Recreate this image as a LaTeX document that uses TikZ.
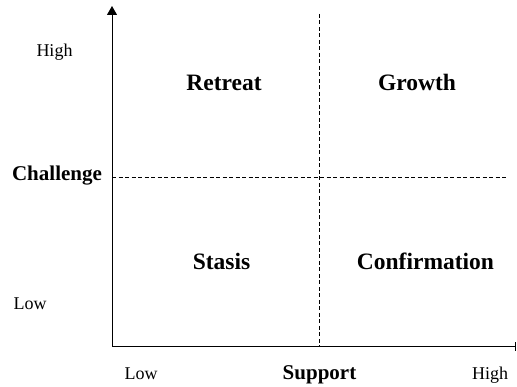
\documentclass[tikz,border=0pt]{standalone}
\usepackage{fontspec}
\setmainfont{Liberation Serif}
\usetikzlibrary{arrows.meta}
\begin{document}
\begin{tikzpicture}[x=1pt,y=-1pt,
  axis/.style={line width=1pt},
  grid/.style={line width=0.9pt,dash pattern=on 4pt off 2.5pt},
  level/.style={anchor=base,inner sep=0pt,font=\fontsize{18}{20}\selectfont},
  axisname/.style={anchor=base,inner sep=0pt,font=\fontsize{21}{24}\selectfont\bfseries},
  quadrant/.style={anchor=base,inner sep=0pt,font=\fontsize{23.5}{26}\selectfont\bfseries}]
  \useasboundingbox (0,0) rectangle (517,387);
  % axes
  \coordinate (O) at (112,347);
  \coordinate (ytop) at (112,6);
  \coordinate (xend) at (516,347);
  \draw[axis,-{Triangle[length=9pt,width=10pt]}] (O) -- (ytop);
  \draw[axis,-{Bar[width=9pt]}] (O) -- (xend);
  % quadrant dividers
  \coordinate (vtop) at (319,14);
  \coordinate (vbot) at (319,347);
  \coordinate (hleft) at (112,177);
  \coordinate (hright) at (508,177);
  \draw[grid] (vtop) -- (vbot);
  \draw[grid] (hleft) -- (hright);
  % vertical axis labels
  \node[level] (yhigh) at (54.5,56.5) {High};
  \node[level] (ylow) at (30,309.5) {Low};
  \node[axisname] (ylabel) at (57,181) {Challenge};
  % horizontal axis labels
  \node[level] (xlow) at (141,380) {Low};
  \node[axisname] (xlabel) at (319.5,380) {Support};
  \node[level] (xhigh) at (490,380) {High};
  % quadrants
  \node[quadrant] (retreat) at (224,90.5) {Retreat};
  \node[quadrant] (growth) at (417,90.5) {Growth};
  \node[quadrant] (stasis) at (221.5,270) {Stasis};
  \node[quadrant] (confirm) at (425.5,270) {Confirmation};
\end{tikzpicture}
\end{document}
